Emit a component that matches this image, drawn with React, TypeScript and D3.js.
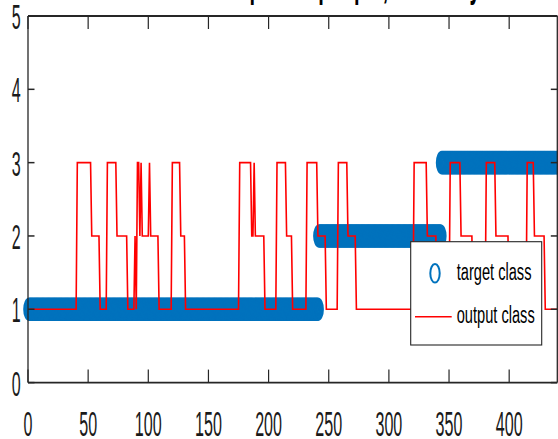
import React from "react";
import * as d3 from "d3";

// axis ticks
const xTicks = [0, 50, 100, 150, 200, 250, 300, 350, 400];
const yTicks = [0, 1, 2, 3, 4, 5];

// target class per sample, written as [class, number of samples]
const targetRuns = [
    [1, 241],
    [2, 102],
    [3, 97],
];

// output class per sample, written as [class, number of samples]
const outputRuns = [
    [1, 40], [3, 12], [2, 7], [1, 6], [3, 8], [2, 9], [1, 6], [2, 1], [1, 1],
    [3, 2], [2, 1], [3, 1], [2, 6], [3, 1], [2, 7], [1, 11], [3, 7], [2, 4],
    [1, 45], [3, 10], [2, 2], [3, 1], [2, 8], [1, 10], [3, 8], [2, 5], [1, 12],
    [3, 9], [2, 7], [1, 10], [3, 8], [2, 7], [1, 48], [3, 11], [2, 8], [1, 11],
    [3, 9], [2, 10], [1, 11], [3, 8], [2, 11], [1, 15], [3, 6], [2, 9], [1, 11],
];

const legendLabels = ["target class", "output class"];
const titleText = "Classification output for people, accuracy";

function expandRuns(runs: number[][]) {
    const out: { x: number; y: number }[] = [];
    runs.forEach(([v, n]) => {
        for (let i = 0; i < n; i++) out.push({ x: out.length + 1, y: v });
    });
    return out;
}

export default function App() {
    const ref = React.useRef<SVGSVGElement>(null);

    React.useEffect(() => {
        document.body.style.margin = "0";
        drawChart();
    }, []);

    function drawChart() {
        const width = 558;
        const height = 439;
        const left = 28;
        const right = 557.3;
        const top = 16;
        const bottom = 382.6;
        const axisColor = "#262626";
        const blue = "#0072BD";

        const svg = d3.select(ref.current);
        svg.selectAll("*").remove();
        svg.attr("width", width).attr("height", height);

        const x = d3.scaleLinear().domain([0, 440]).range([left, right]);
        const y = d3.scaleLinear().domain([0, 5]).range([bottom, top]);

        const target = expandRuns(targetRuns);
        const output = expandRuns(outputRuns);

        // title, mostly above the picture
        const title = svg
            .append("text")
            .attr("font-family", "Liberation Sans, Arial, sans-serif")
            .attr("font-weight", "bold")
            .attr("font-size", 40)
            .attr("fill", "#000")
            .text(titleText);
        const node = title.node() as SVGTextElement;
        const pIdx = titleText.indexOf("output") + 3;
        let sub = 0;
        try {
            sub = node.getSubStringLength(0, pIdx);
        } catch (e) {
            sub = 330;
        }
        title.attr("transform", `translate(${251 - 1.4 - sub * 0.5},-3) scale(0.5,1)`);

        // target class markers
        svg.append("g")
            .selectAll("ellipse")
            .data(target)
            .enter()
            .append("ellipse")
            .attr("cx", (d) => x(d.x))
            .attr("cy", (d) => y(d.y))
            .attr("rx", 5)
            .attr("ry", 10.8)
            .attr("fill", "none")
            .attr("stroke", blue)
            .attr("stroke-width", 2);

        // output class line
        const line = d3
            .line<{ x: number; y: number }>()
            .x((d) => x(d.x))
            .y((d) => y(d.y));

        svg.append("path")
            .datum(output)
            .attr("d", line)
            .attr("fill", "none")
            .attr("stroke", "#FF0000")
            .attr("stroke-width", 1.6);

        // axes box
        const box = svg.append("g").attr("stroke", axisColor);
        box.append("line").attr("x1", left).attr("x2", right).attr("y1", top).attr("y2", top).attr("stroke-width", 1.8);
        box.append("line").attr("x1", left).attr("x2", right).attr("y1", bottom).attr("y2", bottom).attr("stroke-width", 1.8);
        box.append("line").attr("x1", left).attr("x2", left).attr("y1", top).attr("y2", bottom).attr("stroke-width", 1.3);
        box.append("line").attr("x1", right).attr("x2", right).attr("y1", top).attr("y2", bottom).attr("stroke-width", 1.3);

        // inner ticks on all four sides
        xTicks.forEach((t) => {
            box.append("line").attr("x1", x(t)).attr("x2", x(t)).attr("y1", bottom).attr("y2", bottom - 13).attr("stroke-width", 1.2);
            box.append("line").attr("x1", x(t)).attr("x2", x(t)).attr("y1", top).attr("y2", top + 13).attr("stroke-width", 1.2);
        });
        yTicks.forEach((t) => {
            box.append("line").attr("x1", left).attr("x2", left + 6.5).attr("y1", y(t)).attr("y2", y(t)).attr("stroke-width", 1.5);
            box.append("line").attr("x1", right).attr("x2", right - 6.5).attr("y1", y(t)).attr("y2", y(t)).attr("stroke-width", 1.5);
        });

        // tick labels, narrow as in the picture
        const labels = svg
            .append("g")
            .attr("font-family", "Liberation Sans, Arial, sans-serif")
            .attr("font-size", 35)
            .attr("fill", "#1a1a1a");

        labels.selectAll("xlab")
            .data(xTicks)
            .enter()
            .append("text")
            .attr("text-anchor", "middle")
            .attr("transform", (d) => `translate(${x(d)},${436}) scale(0.46,1)`)
            .text((d) => d);

        labels.selectAll("ylab")
            .data(yTicks)
            .enter()
            .append("text")
            .attr("text-anchor", "end")
            .attr("transform", (d) => `translate(${20.8},${y(d) + 13}) scale(0.46,1)`)
            .text((d) => d);

        // legend
        const lg = svg.append("g");
        lg.append("rect")
            .attr("x", 410.7)
            .attr("y", 241.7)
            .attr("width", 131)
            .attr("height", 103.3)
            .attr("fill", "#fff")
            .attr("stroke", axisColor)
            .attr("stroke-width", 1.1);
        lg.append("ellipse")
            .attr("cx", 435)
            .attr("cy", 273.3)
            .attr("rx", 4.7)
            .attr("ry", 9.3)
            .attr("fill", "none")
            .attr("stroke", blue)
            .attr("stroke-width", 2);
        lg.append("line")
            .attr("x1", 415)
            .attr("x2", 451.7)
            .attr("y1", 316.7)
            .attr("y2", 316.7)
            .attr("stroke", "#FF0000")
            .attr("stroke-width", 1.6);
        lg.selectAll("legtext")
            .data(legendLabels)
            .enter()
            .append("text")
            .attr("font-family", "Liberation Sans, Arial, sans-serif")
            .attr("font-size", 24)
            .attr("fill", "#000")
            .attr("transform", (d, i) => `translate(456.7,${i === 0 ? 280 : 323}) scale(0.61,1)`)
            .text((d) => d);
    }

    return (
        <svg
            ref={ref}
            style={{ position: "absolute", left: 0, top: 0, display: "block", background: "#fff" }}
        />
    );
}
